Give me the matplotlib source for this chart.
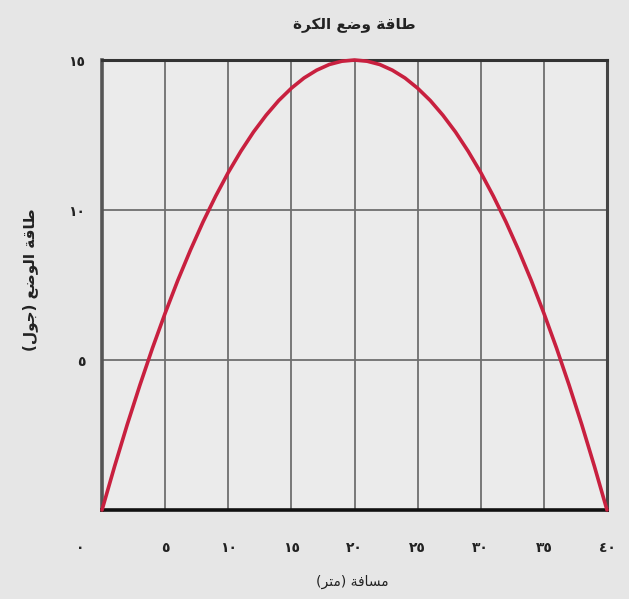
import matplotlib
matplotlib.use("Agg")
import matplotlib.pyplot as plt
import matplotlib.transforms as mtransforms

# ---------------- data ----------------
distance_m = list(range(0, 41))
energy_j = [0, 1.46, 2.85, 4.16, 5.4, 6.56, 7.65, 8.66, 9.6, 10.46,
            11.25, 11.96, 12.6, 13.16, 13.65, 14.06, 14.4, 14.66, 14.85, 14.96,
            15,
            14.96, 14.85, 14.66, 14.4, 14.06, 13.65, 13.16, 12.6, 11.96,
            11.25, 10.46, 9.6, 8.66, 7.65, 6.56, 5.4, 4.16, 2.85, 1.46, 0]
x_ticks = [0, 5, 10, 15, 20, 25, 30, 35, 40]
x_tick_labels = ["٠", "٥", "١٠", "١٥", "٢٠", "٢٥", "٣٠", "٣٥", "٤٠"]
y_ticks = [5, 10, 15]
y_tick_labels = ["٥", "١٠", "١٥"]
title_text = "طاقة وضع الكرة"
x_label_text = "مسافة (متر)"
y_label_text = "طاقة الوضع (جول)"

# ---------------- minimal Arabic shaping + RTL ordering ----------------
# (isolated, final, initial, medial); right-joining letters have only 2 forms
FORMS = {
    "ا": ("\uFE8D", "\uFE8E"),
    "ة": ("\uFE93", "\uFE94"),
    "ت": ("\uFE95", "\uFE96", "\uFE97", "\uFE98"),
    "ج": ("\uFE9D", "\uFE9E", "\uFE9F", "\uFEA0"),
    "ر": ("\uFEAD", "\uFEAE"),
    "س": ("\uFEB1", "\uFEB2", "\uFEB3", "\uFEB4"),
    "ض": ("\uFEBD", "\uFEBE", "\uFEBF", "\uFEC0"),
    "ط": ("\uFEC1", "\uFEC2", "\uFEC3", "\uFEC4"),
    "ع": ("\uFEC9", "\uFECA", "\uFECB", "\uFECC"),
    "ف": ("\uFED1", "\uFED2", "\uFED3", "\uFED4"),
    "ق": ("\uFED5", "\uFED6", "\uFED7", "\uFED8"),
    "ك": ("\uFED9", "\uFEDA", "\uFEDB", "\uFEDC"),
    "ل": ("\uFEDD", "\uFEDE", "\uFEDF", "\uFEE0"),
    "م": ("\uFEE1", "\uFEE2", "\uFEE3", "\uFEE4"),
    "و": ("\uFEED", "\uFEEE"),
}


def shape_ar(text):
    out = []
    n = len(text)
    for i, ch in enumerate(text):
        if ch not in FORMS:
            out.append(ch)
            continue
        f = FORMS[ch]
        dual = len(f) == 4
        prev = text[i - 1] if i > 0 else ""
        nxt = text[i + 1] if i + 1 < n else ""
        cp = prev in FORMS and len(FORMS[prev]) == 4
        cn = dual and nxt in FORMS
        if cp and cn:
            out.append(f[3])
        elif cp:
            out.append(f[1])
        elif cn:
            out.append(f[2])
        else:
            out.append(f[0])
    vis = "".join(reversed(out))
    swap = {"(": ")", ")": "("}
    return "".join(swap.get(c, c) for c in vis)


# ---------------- figure ----------------
BG = "#e6e6e6"
fig = plt.figure(figsize=(6.29, 5.99), dpi=100, facecolor=BG)
ax = fig.add_axes([102 / 629, 1 - 510 / 599, 505 / 629, 450 / 599])
ax.set_facecolor("#ebebeb")

ax.plot(distance_m, energy_j, color="#c8203f", lw=2.6, solid_capstyle="round",
        solid_joinstyle="round", zorder=3, clip_on=False)

ax.set_xlim(0, 40)
ax.set_ylim(0, 15)
ax.set_xticks(x_ticks)
ax.set_xticklabels(x_tick_labels)
ax.set_yticks(y_ticks)
ax.set_yticklabels(y_tick_labels)
ax.tick_params(axis="x", length=0, pad=22, labelsize=10, labelcolor="#222222")
ax.tick_params(axis="y", length=0, pad=12, labelsize=10, labelcolor="#222222")
for lab in ax.get_xticklabels() + ax.get_yticklabels():
    lab.set_family("DejaVu Sans")
    lab.set_fontweight("bold")

# the zero label sits left of the axis in the original
zero_lab = ax.get_xticklabels()[0]
zero_lab.set_transform(zero_lab.get_transform() +
                       mtransforms.ScaledTranslation(-22 / 100, 0, fig.dpi_scale_trans))

ax.grid(True, color="#6e6e6e", lw=1.3)
ax.set_axisbelow(True)

ax.spines["bottom"].set_linewidth(2.6)
ax.spines["bottom"].set_color("#111111")
ax.spines["top"].set_linewidth(2.2)
ax.spines["top"].set_color("#333333")
ax.spines["left"].set_linewidth(2.6)
ax.spines["left"].set_color("#555555")
ax.spines["right"].set_linewidth(2.2)
ax.spines["right"].set_color("#444444")

fig.text(354 / 629, 1 - 25 / 599, shape_ar(title_text), ha="center", va="center",
         family="DejaVu Sans", fontsize=11, fontweight="bold", color="#222222")
fig.text(352 / 629, 1 - 582 / 599, shape_ar(x_label_text), ha="center", va="center",
         family="DejaVu Sans", fontsize=10, color="#222222")
fig.text(30 / 629, 1 - 280 / 599, shape_ar(y_label_text), ha="center", va="center",
         rotation=90, family="DejaVu Sans", fontsize=11, fontweight="bold",
         color="#222222")

fig.savefig("out.png", dpi=100, facecolor=BG)
